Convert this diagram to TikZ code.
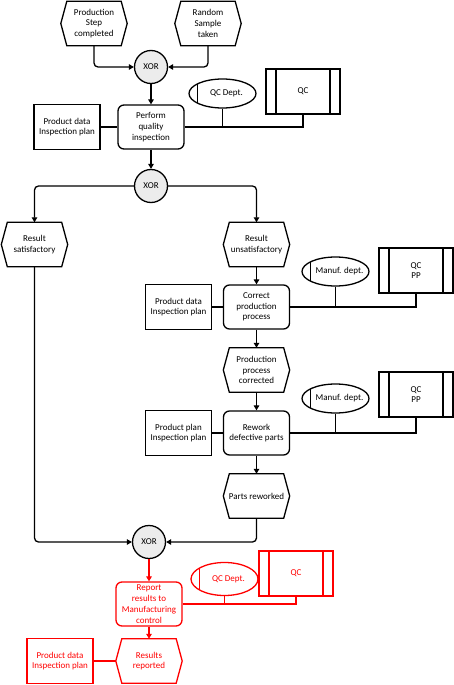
\documentclass[tikz,border=0pt]{standalone}
\usepackage{fontspec}
\setmainfont{Carlito}
\usetikzlibrary{arrows.meta,shapes.geometric}
\newcommand\evnode[3]{% name, position, text
  \node[evt] (#1) at (#2) {#3};
  \draw[lw] ([xshift=6pt]#1.north west) -- ([xshift=-6pt]#1.north east) -- (#1.east)
    -- ([xshift=-6pt]#1.south east) -- ([xshift=6pt]#1.south west) -- (#1.west) -- cycle;}
\tikzset{
  lw/.style={line width=1.3pt},
  base/.style={font=\fontsize{9}{10.8}\selectfont, align=center, inner sep=1pt},
  evt/.style={base, minimum width=66pt, minimum height=44pt},
  func/.style={base, draw, lw, rounded corners=6pt, minimum width=66pt, minimum height=44pt},
  datab/.style={base, draw, lw, minimum width=66pt, minimum height=45pt},
  org/.style={base, ellipse, draw, lw, minimum width=67pt, minimum height=29pt, inner sep=0pt,
    path picture={\draw[lw] ([xshift=8.5pt]path picture bounding box.north west) -- ([xshift=8.5pt]path picture bounding box.south west);}},
  sys/.style={base, draw, lw, minimum width=74pt, minimum height=45pt,
    path picture={\draw[lw] ([xshift=10pt]path picture bounding box.north west) -- ([xshift=10pt]path picture bounding box.south west);
                  \draw[lw] ([xshift=-10pt]path picture bounding box.north east) -- ([xshift=-10pt]path picture bounding box.south east);}},
  xor/.style={base, circle, draw, lw, fill=gray!15, minimum size=33pt, inner sep=0pt},
  arr/.style={lw, -{Triangle[length=5pt,width=5.5pt]}, rounded corners=4pt},
  con/.style={lw},
}
\begin{document}
\begin{tikzpicture}[x=1pt,y=-1pt]
\useasboundingbox (0,0) rectangle (454,685);
% top
\evnode{e1}{94,23.5}{Production\\Step\\completed}
\evnode{e2}{208,23.5}{Random\\Sample\\taken}
\node[xor] (x1) at (151,67) {XOR};
\node[func] (f1) at (151,127) {Perform\\quality\\inspection};
\node[datab] (d1) at (67,127) {Product data\\Inspection plan};
\node[org, label={[base,xshift=4pt]center:QC Dept.}] (o1) at (222.5,93.5) {};
\node[sys] (s1) at (303,91.5) {QC};
\draw[arr] (e1.south) |- (x1.west);
\draw[arr] (e2.south) |- (x1.east);
\draw[arr] (x1.south) -- (f1.north);
\draw[con] (d1.east) -- (f1.west);
\draw[con] (f1.east) -| (s1.south);
\draw[con] (o1.south) -- (o1.south |- f1.east);
% split
\node[xor] (x2) at (151,186) {XOR};
\draw[arr] (f1.south) -- (x2.north);
\evnode{e3}{34.5,244.5}{Result\\satisfactory}
\evnode{e4}{256.5,244.5}{Result\\unsatisfactory}
\draw[arr] (x2.west) -| (e3.north);
\draw[arr] (x2.east) -| (e4.north);
% correct
\node[func] (f2) at (256.5,307) {Correct\\production\\process};
\node[datab] (d2) at (178.5,307) {Product data\\Inspection plan};
\node[org, label={[base,xshift=4pt]center:Manuf. dept.}] (o2) at (335.5,271.5) {};
\node[sys] (s2) at (416,270.5) {QC\\PP};
\draw[arr] (e4.south) -- (f2.north);
\draw[con] (d2.east) -- (f2.west);
\draw[con] (f2.east) -| (s2.south);
\draw[con] (o2.south) -- (o2.south |- f2.east);
\evnode{e5}{256.5,370}{Production\\process\\corrected}
\draw[arr] (f2.south) -- (e5.north);
% rework
\node[func] (f3) at (256.5,433) {Rework\\defective parts};
\node[datab] (d3) at (178.5,433) {Product plan\\Inspection plan};
\node[org, label={[base,xshift=4pt]center:Manuf. dept.}] (o3) at (335.5,398.5) {};
\node[sys] (s3) at (416,394.5) {QC\\PP};
\draw[arr] (e5.south) -- (f3.north);
\draw[con] (d3.east) -- (f3.west);
\draw[con] (f3.east) -| (s3.south);
\draw[con] (o3.south) -- (o3.south |- f3.east);
\evnode{e6}{256.5,496}{Parts reworked}
\draw[arr] (f3.south) -- (e6.north);
% join
\node[xor] (x3) at (149,542) {XOR};
\draw[arr] (e3.south) |- (x3.west);
\draw[arr] (e6.south) |- (x3.east);
% red part
\begin{scope}[red]
\node[func] (f4) at (149,604) {Report\\results to\\Manufacturing\\control};
\node[org, minimum height=33pt, label={[base,xshift=4pt]center:QC Dept.}] (o4) at (224.5,579) {};
\node[sys] (s4) at (296,573.5) {QC};
\draw[arr] (x3.south) -- (f4.north);
\draw[con] (f4.east) -| (s4.south);
\draw[con] (o4.south) -- (o4.south |- f4.east);
\evnode{e7}{149,661}{Results\\reported}
\node[datab] (d4) at (60,661) {Product data\\Inspection plan};
\draw[arr] (f4.south) -- (e7.north);
\draw[con] (d4.east) -- (e7.west);
\end{scope}
\end{tikzpicture}
\end{document}
